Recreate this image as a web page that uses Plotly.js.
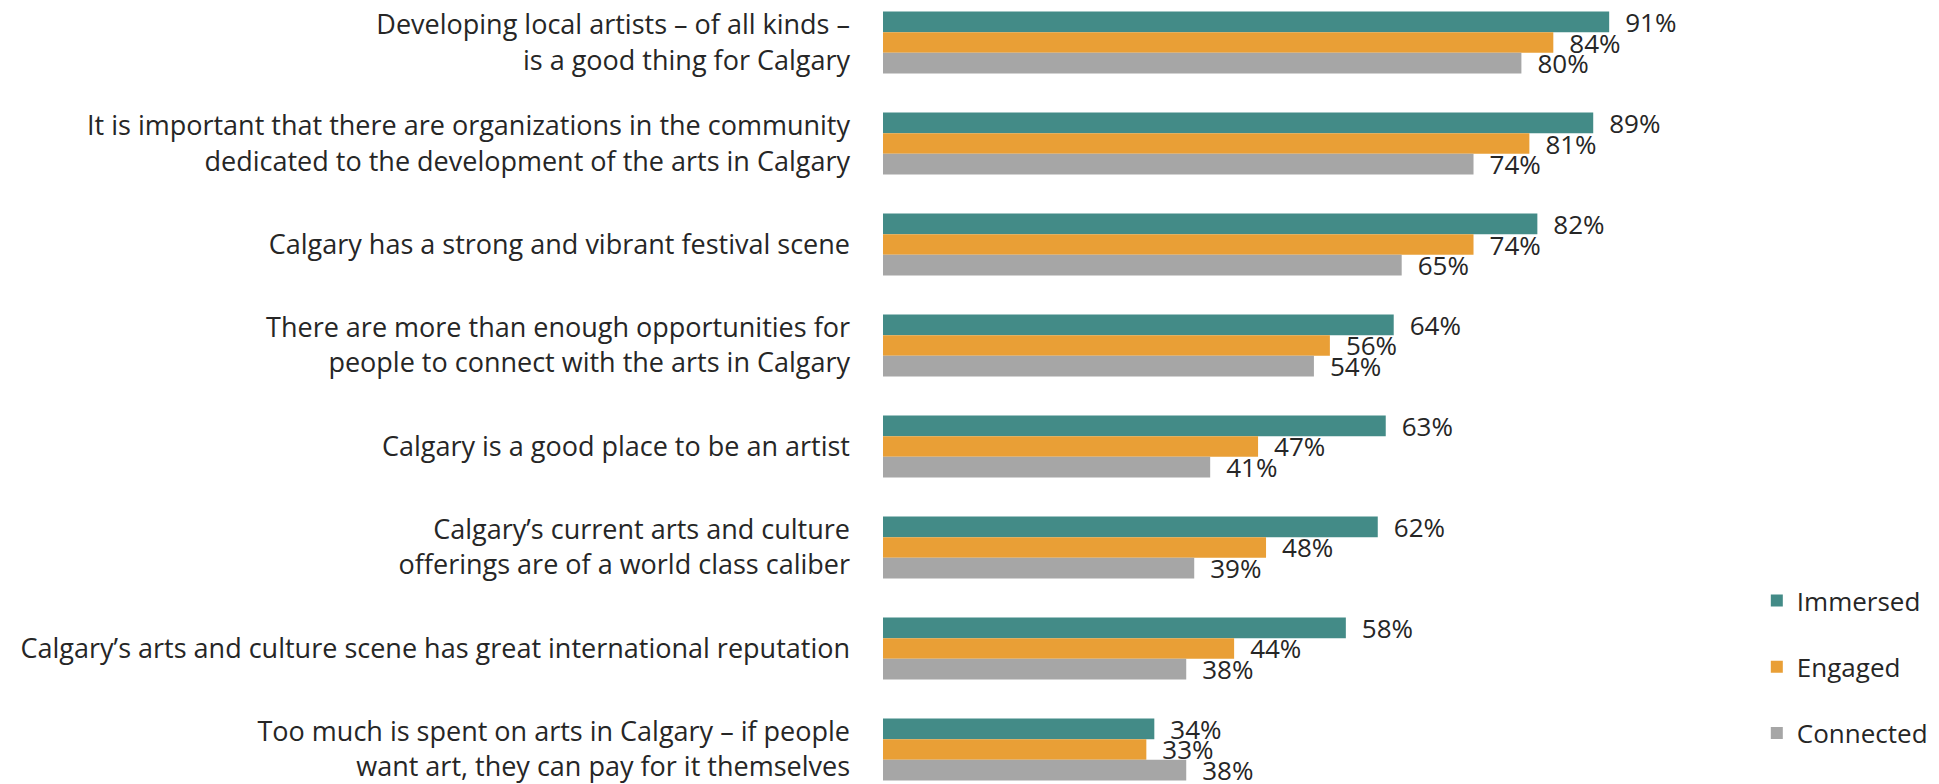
<!DOCTYPE html>
<html>
<head>
<meta charset="utf-8">
<script src="https://cdn.plot.ly/plotly-3.0.1.min.js"></script>
<style>html,body{margin:0;padding:0;background:#fff;}#chart{width:1939px;height:784px;}</style>
</head>
<body>
<div id="chart"></div>
<script>
const categories = [
  "Developing local artists – of all kinds –<br>is a good thing for Calgary",
  "It is important that there are organizations in the community<br>dedicated to the development of the arts in Calgary",
  "Calgary has a strong and vibrant festival scene",
  "There are more than enough opportunities for<br>people to connect with the arts in Calgary",
  "Calgary is a good place to be an artist",
  "Calgary’s current arts and culture<br>offerings are of a world class caliber",
  "Calgary’s arts and culture scene has great international reputation",
  "Too much is spent on arts in Calgary – if people<br>want art, they can pay for it themselves"
];
const immersed  = [91, 89, 82, 64, 63, 62, 58, 34];
const engaged   = [84, 81, 74, 56, 47, 48, 44, 33];
const connected = [80, 74, 65, 54, 41, 39, 38, 38];
const seriesNames = ["Immersed", "Engaged", "Connected"];
const seriesColors = ["#438B87", "#E99F36", "#A6A6A6"];

const FONT = "'Open Sans', Lato, sans-serif";
const seriesValues = [immersed, engaged, connected];
const traces = seriesValues.map((vals, i) => ({
  type: "bar",
  orientation: "h",
  name: seriesNames[i],
  legendgroup: seriesNames[i],
  y: categories,
  x: vals,
  marker: {color: seriesColors[i]},
  text: vals.map(v => "\u2002" + v + "%"),
  textposition: "outside",
  cliponaxis: false,
  constraintext: "none",
  textfont: {family: FONT, size: 26, color: "#262626"},
  hoverinfo: "skip"
}));

const layout = {
  width: 1939,
  height: 784,
  margin: {l: 883, r: 258, t: 0, b: 0, pad: 0},
  paper_bgcolor: "#ffffff",
  plot_bgcolor: "#ffffff",
  barmode: "group",
  bargap: 0.386,
  bargroupgap: 0,
  showlegend: true,
  legend: {
    x: 1.095, xanchor: "left", y: 0.264, yanchor: "top",
    traceorder: "grouped",
    tracegroupgap: 29.5,
    font: {family: FONT, size: 26, color: "#262626"},
    itemwidth: 30
  },
  xaxis: {
    range: [0, 100],
    showgrid: false, zeroline: false, showticklabels: false, showline: false, ticks: ""
  },
  yaxis: {
    type: "category",
    range: [7.342, -0.421],
    showgrid: false, zeroline: false, showline: false,
    ticks: "",
    ticklabelstandoff: 32,
    tickfont: {family: FONT, size: 27, color: "#262626"}
  },
  font: {family: FONT, color: "#262626"}
};

Plotly.newPlot("chart", traces, layout, {displayModeBar: false, staticPlot: true});
</script>
</body>
</html>
